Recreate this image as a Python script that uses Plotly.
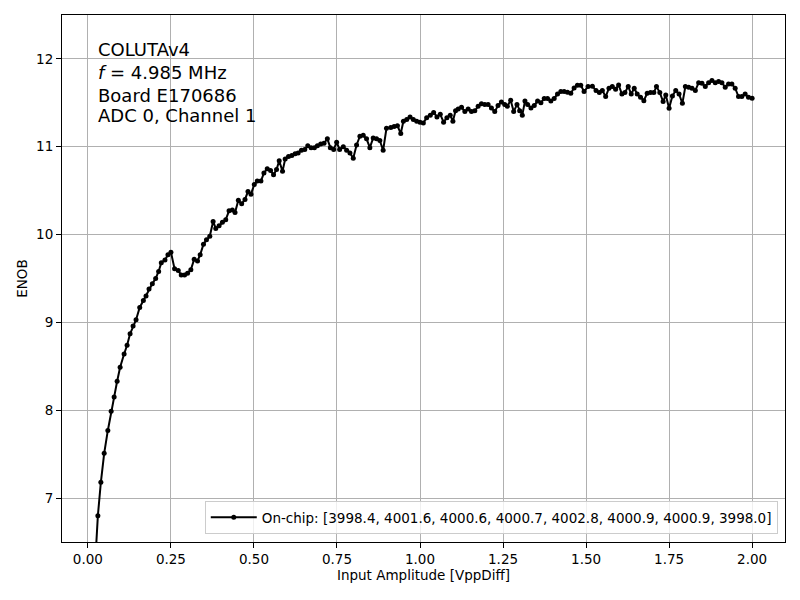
import plotly.graph_objects as go

# ---- data ----
amplitude = [
    0.021, 0.030, 0.039, 0.049, 0.060, 0.070, 0.079, 0.088, 0.097, 0.109,
    0.118, 0.127, 0.136, 0.145, 0.156, 0.167, 0.175, 0.184, 0.194, 0.204,
    0.213, 0.221, 0.232, 0.241, 0.250, 0.261, 0.272, 0.281, 0.291, 0.300,
    0.310, 0.320, 0.330, 0.338, 0.348, 0.357,
    0.367, 0.377, 0.385, 0.395, 0.405, 0.415, 0.425, 0.435, 0.443, 0.453,
    0.463, 0.473, 0.482, 0.491, 0.501, 0.510, 0.521, 0.530, 0.540, 0.550,
    0.559, 0.568, 0.576, 0.586, 0.594, 0.604, 0.614, 0.624, 0.633, 0.643,
    0.653, 0.662, 0.672, 0.682, 0.691, 0.701, 0.711, 0.721, 0.730, 0.740,
    0.749, 0.758, 0.769, 0.779, 0.789, 0.799, 0.809, 0.819, 0.829, 0.839,
    0.849, 0.859, 0.869, 0.879, 0.889,
    0.899, 0.912, 0.922, 0.932, 0.942, 0.950, 0.960, 0.970, 0.980, 0.990,
    1.000, 1.010, 1.020, 1.031, 1.041, 1.051, 1.061, 1.071, 1.081, 1.091,
    1.099, 1.107, 1.115, 1.125, 1.135, 1.145, 1.155, 1.165, 1.175, 1.185,
    1.195, 1.205, 1.215, 1.225, 1.235, 1.245, 1.255, 1.263, 1.273, 1.282,
    1.292, 1.300, 1.308, 1.316, 1.324, 1.334, 1.344, 1.354, 1.364, 1.374,
    1.384, 1.394, 1.404, 1.414, 1.424, 1.434, 1.444, 1.454, 1.464, 1.474,
    1.484, 1.494,
    1.506, 1.519, 1.530, 1.540, 1.549, 1.559, 1.569, 1.579, 1.589, 1.598,
    1.608, 1.617, 1.627, 1.636, 1.645, 1.654, 1.664, 1.674, 1.684, 1.694,
    1.704, 1.712, 1.722, 1.732, 1.740, 1.750, 1.760, 1.770, 1.780, 1.790,
    1.799, 1.809, 1.819, 1.829, 1.839, 1.849, 1.859, 1.869, 1.879, 1.889,
    1.899, 1.909, 1.919, 1.929, 1.939, 1.949, 1.959, 1.969, 1.979, 1.989,
    2.000,
]

enob = [
    6.20, 6.80, 7.18, 7.51, 7.77, 7.99, 8.15, 8.33, 8.49, 8.64,
    8.74, 8.87, 8.96, 9.03, 9.17, 9.25, 9.30, 9.38, 9.44, 9.50,
    9.58, 9.68, 9.71, 9.77, 9.80, 9.61, 9.59, 9.54, 9.54, 9.56,
    9.60, 9.72, 9.70, 9.77, 9.89, 9.94,
    9.98, 10.15, 10.07, 10.10, 10.14, 10.17, 10.27, 10.28, 10.25, 10.39,
    10.35, 10.40, 10.49, 10.46, 10.57, 10.61, 10.61, 10.70, 10.75, 10.73,
    10.68, 10.74, 10.84, 10.72, 10.86, 10.89, 10.90, 10.92, 10.93, 10.96,
    10.97, 11.01, 10.99, 10.99, 11.01, 11.03, 11.04, 11.09, 10.99, 10.97,
    11.05, 10.97, 11.00, 10.96, 10.93, 10.87, 11.02, 11.12, 11.13, 11.09,
    10.99, 11.10, 11.09, 11.07, 10.96,
    11.21, 11.22, 11.23, 11.24, 11.15, 11.29, 11.31, 11.34, 11.31, 11.29,
    11.28, 11.27, 11.33, 11.36, 11.39, 11.34, 11.37, 11.28, 11.33, 11.36,
    11.29, 11.41, 11.43, 11.45, 11.40, 11.43, 11.40, 11.41, 11.46, 11.49,
    11.48, 11.48, 11.44, 11.40, 11.47, 11.51, 11.48, 11.46, 11.53, 11.40,
    11.48, 11.41, 11.36, 11.52, 11.48, 11.44, 11.47, 11.52, 11.50, 11.55,
    11.55, 11.52, 11.55, 11.60, 11.63, 11.63, 11.62, 11.61, 11.67, 11.70,
    11.70, 11.63,
    11.685, 11.69, 11.64, 11.617, 11.64, 11.571, 11.666, 11.685, 11.655, 11.704,
    11.60, 11.617, 11.685, 11.60, 11.666, 11.60, 11.563, 11.525, 11.609, 11.617,
    11.617, 11.685, 11.617, 11.514, 11.59, 11.438, 11.578, 11.64, 11.60, 11.495,
    11.685, 11.677, 11.666, 11.64, 11.73, 11.723, 11.685, 11.73, 11.753, 11.73,
    11.742, 11.73, 11.677, 11.715, 11.715, 11.666, 11.571, 11.571, 11.60, 11.563,
    11.552,
]

onchip_values = [3998.4, 4001.6, 4000.6, 4000.7, 4002.8, 4000.9, 4000.9, 3998.0]
info_lines = ["COLUTAv4", "<i>f</i> = 4.985 MHz", "Board E170686", "ADC 0, Channel 1"]
x_ticks = [0.0, 0.25, 0.5, 0.75, 1.0, 1.25, 1.5, 1.75, 2.0]
y_ticks = [7, 8, 9, 10, 11, 12]

legend_label = "On-chip: [" + ", ".join(f"{v:.1f}" for v in onchip_values) + "]"

FONT = "DejaVu Sans"

fig = go.Figure()
fig.add_trace(go.Scatter(
    x=amplitude, y=enob, mode="lines+markers", name=legend_label,
    line=dict(color="black", width=2),
    marker=dict(color="black", size=5),
))

axis_common = dict(
    showline=True, linecolor="black", linewidth=1, mirror=True,
    ticks="outside", ticklen=5, tickwidth=1, tickcolor="black",
    showgrid=True, gridcolor="#b0b0b0", gridwidth=1, zeroline=False,
    tickfont=dict(family=FONT, size=13.5, color="black"),
)

fig.update_xaxes(
    range=[-0.078, 2.099], tickvals=x_ticks, tickformat=".2f",
    title=dict(text="Input Amplitude [VppDiff]", font=dict(family=FONT, size=13.5, color="black"), standoff=4),
    **axis_common,
)
fig.update_yaxes(
    range=[6.5, 12.5], tickvals=y_ticks,
    title=dict(text="ENOB", font=dict(family=FONT, size=13.5, color="black"), standoff=5),
    **axis_common,
)

line_y = [0.934, 0.891, 0.848, 0.809]
for txt, yy in zip(info_lines, line_y):
    fig.add_annotation(
        text=txt, xref="paper", yref="paper", x=0.047, y=yy,
        xanchor="left", yanchor="middle", showarrow=False,
        font=dict(family=FONT, size=18, color="black"),
    )

fig.update_layout(
    template="none",
    width=800, height=600,
    margin=dict(l=54, r=23, t=7, b=66),
    paper_bgcolor="white", plot_bgcolor="white",
    font=dict(family=FONT, size=13.5, color="black"),
    showlegend=True,
    legend=dict(
        x=0.99, y=0.015, xanchor="right", yanchor="bottom",
        bgcolor="rgba(255,255,255,0.8)", bordercolor="#cccccc", borderwidth=1,
        itemwidth=46,
        font=dict(family=FONT, size=13.5, color="black"),
    ),
)

fig.write_html("out.html")
